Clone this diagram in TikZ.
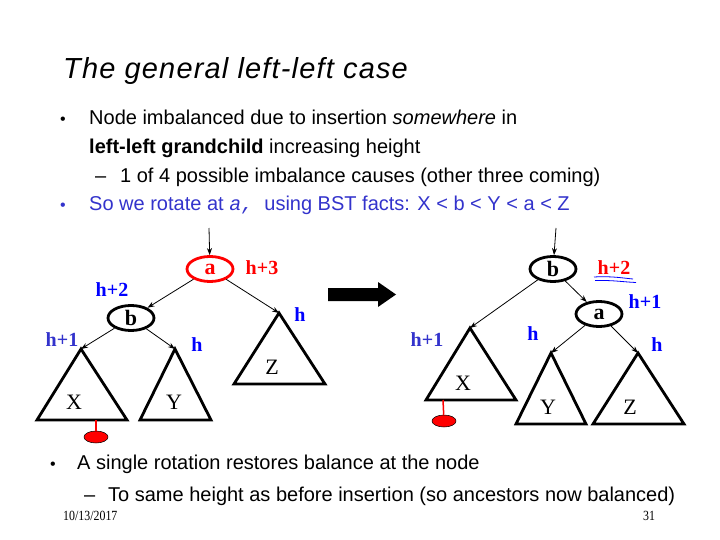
\documentclass[tikz,border=0pt]{standalone}
\usepackage{fontspec}
\setmainfont{Liberation Sans}
\newfontfamily\serif{Liberation Serif}
\newfontfamily\footserif[FakeStretch=0.85]{Liberation Serif}
\newfontfamily\mono{Liberation Mono}
\newfontfamily\titlefont[LetterSpace=4]{Liberation Sans}
\usetikzlibrary{shapes.geometric,arrows.meta}
\definecolor{bblue}{RGB}{51,51,204}
\definecolor{pblue}{RGB}{0,0,255}
\definecolor{pred}{RGB}{255,0,0}
\tikzset{
  body/.style={anchor=base west,inner sep=0,font=\fontsize{20}{24}\selectfont},
  bul/.style={anchor=base west,inner sep=0,font=\fontsize{16}{16}\selectfont},
  tnode/.style={ellipse,draw,line width=2.8,minimum width=46,minimum height=25,inner sep=0,font=\serif\bfseries\fontsize{22}{22}\selectfont},
  tri/.style={line width=2.8,line join=miter},
  edge/.style={line width=0.8,-{Stealth[length=7,width=5]}},
  hlab/.style={inner sep=0,font=\serif\bfseries\fontsize{20}{20}\selectfont,text=pblue},
  hlab2/.style={hlab,text=bblue},
  sub/.style={inner sep=0,font=\serif\fontsize{22}{22}\selectfont},
  ins/.style={ellipse,fill=pred,draw=black,line width=0.5,minimum width=24,minimum height=12,inner sep=0},
  foot/.style={anchor=base west,inner sep=0,font=\footserif\fontsize{14}{14}\selectfont},
}
\begin{document}
\begin{tikzpicture}[x=1pt,y=-1pt]
\useasboundingbox (0,0) rectangle (720,540);
\fill[white] (0,0) rectangle (720,540);
% title
\node[anchor=base west,inner sep=0,font=\titlefont\itshape\fontsize{29}{34}\selectfont] (title) at (63,79) {The general left-left case};
% bullets
\node[bul] (b1d) at (60,125) {•};
\node[body] (b1) at (89,125) {Node imbalanced due to insertion \textit{somewhere} in};
\node[body] (b1b) at (89,154) {\textbf{left-left grandchild} increasing height};
\node[body] (s1d) at (95,183) {–};
\node[body] (s1) at (120,183) {1 of 4 possible imbalance causes (other three coming)};
\node[bul,text=bblue] (b2d) at (60,211) {•};
\node[body,text=bblue] (b2) at (89,211) {So we rotate at {\mono\itshape a,}\ \ using BST facts: X < b < Y < a < Z};
\node[bul] (b3d) at (50,469) {•};
\node[body] (b3) at (77,469) {A single rotation restores balance at the node};
\node[body] (s3d) at (84,501) {–};
\node[body] (s3) at (108,501) {To same height as before insertion (so ancestors now balanced)};
% footer
\node[foot] (date) at (63,520) {10/13/2017};
\node[foot] (pg) at (643,520) {31};

% ---------- left tree ----------
\coordinate (la0) at (209,228);
\node[tnode,draw=pred,text=pred] (la) at (210,269) {a};
\node[tnode] (lb) at (131,318) {b};
\coordinate (lX) at (81,349);
\coordinate (lY) at (175,349);
\coordinate (lZ) at (279,313);
\draw[tri] (lX) -- (37,420) -- (127,420) -- cycle;
\draw[tri] (lY) -- (140,420) -- (211,420) -- cycle;
\draw[tri] (lZ) -- (234,384) -- (325,384) -- cycle;
\node[sub] (lXt) at (74,402) {X};
\node[sub] (lYt) at (174,402) {Y};
\node[sub] (lZt) at (272,367) {Z};
\draw[edge] (la0) -- (la);
\draw[edge] (la) -- (lb);
\draw[edge] (la) -- (lZ);
\draw[edge] (lb) -- (lX);
\draw[edge] (lb) -- (lY);
\node[hlab,text=pred] (lh3) at (262,268) {h+3};
\node[hlab] (lh2) at (112,290) {h+2};
\node[hlab] (lhz) at (300,315) {h};
\node[hlab2] (lh1) at (62,340) {h+1};
\node[hlab] (lhy) at (197,345) {h};
\coordinate (lstem) at (96,420);
\node[ins] (lins) at (96,437) {};
\draw[pred,line width=1.5] (lstem) -- (lins);

% big arrow
\fill (328,288) -- (378,288) -- (378,282) -- (396,294.5) -- (378,307) -- (378,301) -- (328,301) -- cycle;

% ---------- right tree ----------
\coordinate (rb0) at (556,228);
\node[tnode] (rb) at (553,269) {b};
\node[tnode] (ra) at (599,314) {a};
\coordinate (rX) at (470,328);
\coordinate (rY) at (551,353);
\coordinate (rZ) at (638,353);
\draw[tri] (rX) -- (426,400) -- (516,400) -- cycle;
\draw[tri] (rY) -- (516,424) -- (586,424) -- cycle;
\draw[tri] (rZ) -- (593,424) -- (684,424) -- cycle;
\node[sub] (rXt) at (463,383) {X};
\node[sub] (rYt) at (548,407) {Y};
\node[sub] (rZt) at (630,407) {Z};
\draw[edge] (rb0) -- (rb);
\draw[edge] (rb) -- (ra);
\draw[edge] (rb) -- (rX);
\draw[edge] (ra) -- (rY);
\draw[edge] (ra) -- (rZ);
\node[hlab,text=pred] (rh2) at (614,268) {h+2};
\draw[pblue,line width=0.8] (594,277) .. controls (612,276) and (622,278) .. (633,279);
\draw[pblue,line width=0.8] (595,280.5) .. controls (612,280) and (624,282) .. (636,282.5);
\node[hlab] (rh1) at (645,302) {h+1};
\node[hlab2] (rhx) at (427,340) {h+1};
\node[hlab] (rhy) at (533,334) {h};
\node[hlab] (rhz) at (657,345) {h};
\coordinate (rstem) at (443,400);
\node[ins] (rins) at (444,421) {};
\draw[pred,line width=1.5] (rstem) -- (rins);
\end{tikzpicture}
\end{document}
